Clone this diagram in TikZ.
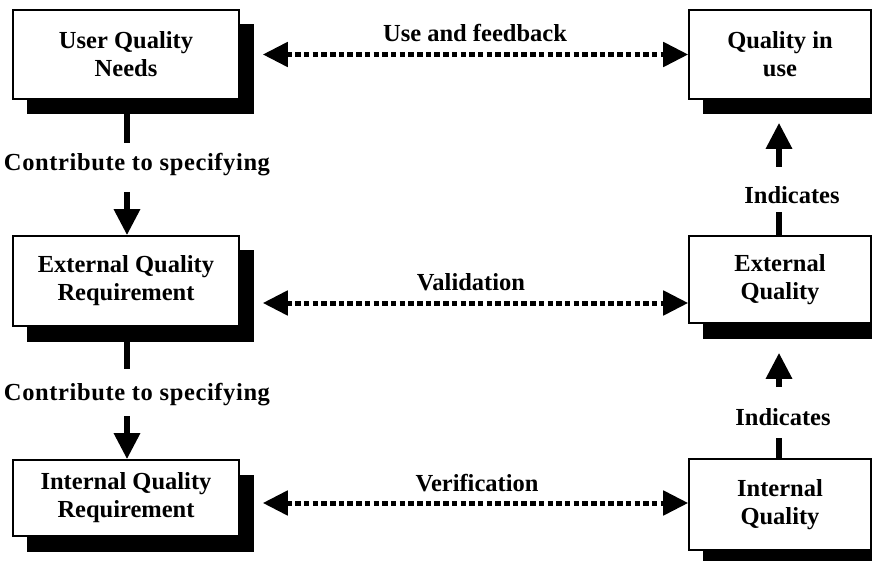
\documentclass[tikz,border=0pt]{standalone}
\usepackage{fontspec}
\setmainfont{Liberation Serif}
\usetikzlibrary{arrows.meta,shadows}

\tikzset{
  qbox/.style={draw=black, line width=1.6pt, fill=white, align=center,
    inner sep=0pt, font=\bfseries\fontsize{24.5}{28}\selectfont,
    copy shadow={shadow xshift=14.5pt, shadow yshift=-15pt, fill=black, draw=black, line width=0pt}},
  lbl/.style={font=\bfseries\fontsize{24.5}{28}\selectfont, inner sep=0pt},
  widelbl/.style={lbl, font=\bfseries\fontsize{24.5}{28}\selectfont\addfontfeatures{LetterSpace=2.5}},
  solidarrow/.style={line width=6pt, -{Triangle[length=26pt,width=25pt]}},
  solidline/.style={line width=6pt},
  dotarrow/.style={line width=5pt, dash pattern=on 5.5pt off 3.2pt,
    {Triangle[length=25pt,width=24pt]}-{Triangle[length=25pt,width=24pt]}}
}

\begin{document}
\begin{tikzpicture}[x=1pt, y=-1pt]
  \useasboundingbox (0,0) rectangle (872,561);
  \fill[white] (0,0) rectangle (872,561);

  % requirement side
  \node[qbox, minimum width=226pt, minimum height=89pt] (b1) at (126,54.5) {User Quality\\Needs};
  \node[qbox, minimum width=226pt, minimum height=90pt] (b2) at (126,281) {External Quality\\Requirement};
  \node[qbox, minimum width=226pt, minimum height=76pt] (b3) at (126,498) {Internal Quality\\Requirement};

  % quality side
  \node[qbox, minimum width=182pt, minimum height=89pt] (r1) at (780,54.5) {Quality in\\use};
  \node[qbox, minimum width=182pt, minimum height=87pt] (r2) at (780,279.5) {External\\Quality};
  \node[qbox, minimum width=182pt, minimum height=91pt] (r3) at (780,504.5) {Internal\\Quality};

  % labels
  \node[widelbl] (l1) at (137,165) {Contribute to specifying};
  \node[widelbl] (l2) at (137,395) {Contribute to specifying};
  \node[lbl] (i1) at (792,195) {Indicates};
  \node[lbl] (i2) at (783,417) {Indicates};
  \node[lbl] (h1) at (475,33) {Use and feedback};
  \node[lbl] (h2) at (471,282) {Validation};
  \node[lbl] (h3) at (477,483) {Verification};

  % break points of the vertical connectors
  \coordinate (c1a) at (127,143);
  \coordinate (c1b) at (127,192);
  \coordinate (c2a) at (127,369);
  \coordinate (c2b) at (127,416);
  \coordinate (d1a) at (779,212);
  \coordinate (d1b) at (779,167);
  \coordinate (d2a) at (779,438);
  \coordinate (d2b) at (779,387);

  % contribute to specifying
  \draw[solidline] (b1.south -| c1a) -- (c1a);
  \draw[solidarrow] (c1b) -- (b2.north -| c1b);
  \draw[solidline] (b2.south -| c2a) -- (c2a);
  \draw[solidarrow] (c2b) -- (b3.north -| c2b);

  % indicates
  \draw[solidline] (r2.north -| d1a) -- (d1a);
  \draw[solidarrow, shorten >=23pt] (d1b) -- (r1.south -| d1b);
  \draw[solidline] (r3.north -| d2a) -- (d2a);
  \draw[solidarrow, shorten >=29pt] (d2b) -- (r2.south -| d2b);

  % use and feedback, validation, verification
  \draw[dotarrow, shorten <=23pt] (b1.east) -- (b1.east -| r1.west);
  \draw[dotarrow, shorten <=23pt] ([yshift=-22pt]b2.east) -- ([yshift=-22pt]b2.east -| r2.west);
  \draw[dotarrow, shorten <=23pt] ([yshift=-5pt]b3.east) -- ([yshift=-5pt]b3.east -| r3.west);
\end{tikzpicture}
\end{document}
